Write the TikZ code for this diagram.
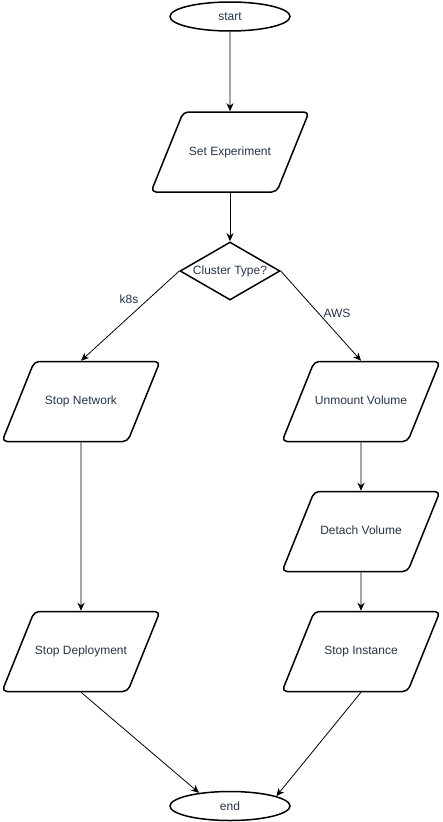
\documentclass[tikz,border=0pt]{standalone}
\usepackage{fontspec}
\setmainfont{Liberation Sans}
\usepackage{tikz}
\usetikzlibrary{shapes.geometric,arrows.meta}
\definecolor{txt}{RGB}{38,52,71}

\begin{document}
\begin{tikzpicture}[x=1pt, y=-1pt, font=\fontsize{12}{14}\selectfont,
	>={Stealth[length=8pt, width=7pt, inset=2.5pt]},
	term/.style={ellipse, draw, line width=1.5pt, minimum width=120pt, minimum height=29pt, inner sep=0pt, text=txt},
	io/.style={trapezium, trapezium left angle=68, trapezium right angle=112, trapezium stretches body=true, draw, line width=1.5pt, rounded corners=5pt, minimum width=158pt, text height=9pt, text depth=3pt, inner xsep=0pt, inner ysep=34pt, text=txt},
	dec/.style={diamond, draw, line width=1.5pt, aspect=1.7, minimum width=100pt, minimum height=58pt, inner sep=0pt, text=txt},
	flow/.style={->, line width=0.8pt},
	lbl/.style={text=txt, inner sep=0pt}]
	\useasboundingbox (0,0) rectangle (442,822);
	\node (start) at (230,16.5) [term] {start};
	\node (setexp) at (230,152) [io] {Set Experiment}		edge[flow, <-](start);
	\node (cluster) at (230,271) [dec] {Cluster Type?}		edge[flow, <-](setexp);
		\node (stopnet) at (81,401.5) [io] {Stop Network};
			\node (stopdep) at (81,651.5) [io] {Stop Deployment}	edge[flow, <-](stopnet);
		\node (unmount) at (361,401.5) [io] {Unmount Volume};
			\node (detach) at (361,531.5) [io] {Detach Volume}	edge[flow, <-](unmount);
			\node (stopinst) at (361,651.5) [io] {Stop Instance}	edge[flow, <-](detach);
	\node (end) at (230,806) [term] {end};
	\draw[flow] (cluster.west) -- (stopnet.north);
	\draw[flow] (cluster.east) -- (unmount.north);
	\draw[flow] (stopdep.south) -- (end.157);
	\draw[flow] (stopinst.south) -- (end.12);
	\node (k8s) at (129,299) [lbl] {k8s};
	\node (aws) at (337,313) [lbl] {AWS};
\end{tikzpicture}
\end{document}
